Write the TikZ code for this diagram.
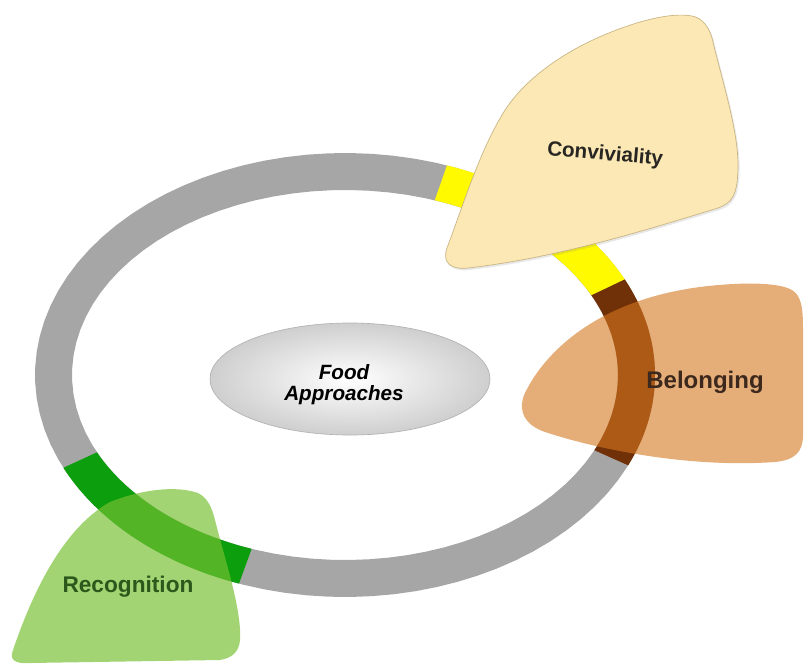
\documentclass[tikz,border=0pt]{standalone}
\usepackage{fontspec}
\setmainfont{Liberation Sans}
\usetikzlibrary{shapes.geometric,shadows}
\definecolor{ringgray}{RGB}{166,166,166}
\definecolor{ringyellow}{RGB}{255,250,0}
\definecolor{ringbrown}{RGB}{112,48,8}
\definecolor{ringgreen}{RGB}{12,158,12}
\definecolor{convfill}{RGB}{251,232,180}
\definecolor{convedge}{RGB}{200,180,130}
\definecolor{belfill}{RGB}{212,118,30}
\definecolor{recfill}{RGB}{118,192,50}
\definecolor{convtext}{RGB}{40,38,35}
\definecolor{beltext}{RGB}{60,40,28}
\definecolor{rectext}{RGB}{45,88,28}
\newcommand\ringseg[3]{%
  \fill[#1] plot[domain=#2:#3,samples=90,variable=\t] ({345+310*cos(\t)},{-375+222*sin(\t)})
    -- plot[domain=#3:#2,samples=90,variable=\t] ({345+273*cos(\t)},{-375+185*sin(\t)}) -- cycle;}
\tikzset{
  lbl/.style={font=\fontsize{15.5}{18}\selectfont\bfseries, inner sep=0pt},
  blob/.style={line width=0.5pt}
}
\begin{document}
\begin{tikzpicture}[x=0.75pt,y=0.75pt]
\useasboundingbox (0,0) rectangle (806,-668);
% ring
\ringseg{ringgray}{0}{360}
\ringseg{ringyellow}{25.5}{70.8}
\ringseg{ringbrown}{-24}{25.5}
\ringseg{ringgreen}{204.7}{250}
% Conviviality
\filldraw[blob, fill=convfill, draw=convedge,
  drop shadow={opacity=0.18, shadow xshift=1.2pt, shadow yshift=-1.5pt}]
  (447,-248) .. controls (465,-200) and (480,-150) .. (505,-110)
  .. controls (530,-72) and (580,-40) .. (640,-22)
  .. controls (665,-15) and (680,-14) .. (692,-16)
  .. controls (703,-18) and (710,-28) .. (713,-42)
  .. controls (722,-80) and (738,-130) .. (738,-165)
  .. controls (738,-195) and (732,-203) .. (718,-208)
  .. controls (640,-232) and (555,-258) .. (468,-268)
  .. controls (450,-270) and (442,-262) .. (447,-248) -- cycle;
% Belonging
\fill[belfill, fill opacity=0.6]
  (524,-395) .. controls (545,-350) and (600,-300) .. (700,-287)
  .. controls (740,-282) and (778,-282) .. (792,-290)
  .. controls (802,-296) and (803,-310) .. (803,-330)
  -- (803,-435)
  .. controls (803,-452) and (795,-460) .. (775,-462)
  .. controls (690,-468) and (600,-450) .. (545,-432)
  .. controls (525,-425) and (518,-412) .. (524,-395) -- cycle;
% Recognition
\fill[recfill, fill opacity=0.68]
  (13,-650) .. controls (30,-600) and (60,-530) .. (110,-502)
  .. controls (140,-490) and (175,-485) .. (198,-493)
  .. controls (208,-498) and (212,-508) .. (215,-520)
  .. controls (225,-560) and (242,-610) .. (240,-640)
  .. controls (239,-652) and (232,-658) .. (220,-660)
  -- (30,-663)
  .. controls (15,-664) and (9,-660) .. (13,-650) -- cycle;
% centre
\node[ellipse, minimum width=210pt, minimum height=84pt, inner color=white, outer color=gray!38,
      draw=gray!60, line width=0.5pt] (core) at (350,-379) {};
\node[lbl, align=center, font=\fontsize{15.5}{15.8}\selectfont\bfseries\itshape] (foodtxt) at (344,-385) {Food\\Approaches};
\node[lbl, text=convtext, rotate=-5] (conv) at (605,-155) {Conviviality};
\node[lbl, text=beltext, anchor=base, font=\fontsize{18}{20}\selectfont\bfseries] (bel) at (705,-388) {Belonging};
\node[lbl, text=rectext, anchor=base, font=\fontsize{17}{20}\selectfont\bfseries] (rec) at (128,-592) {Recognition};
\end{tikzpicture}
\end{document}
